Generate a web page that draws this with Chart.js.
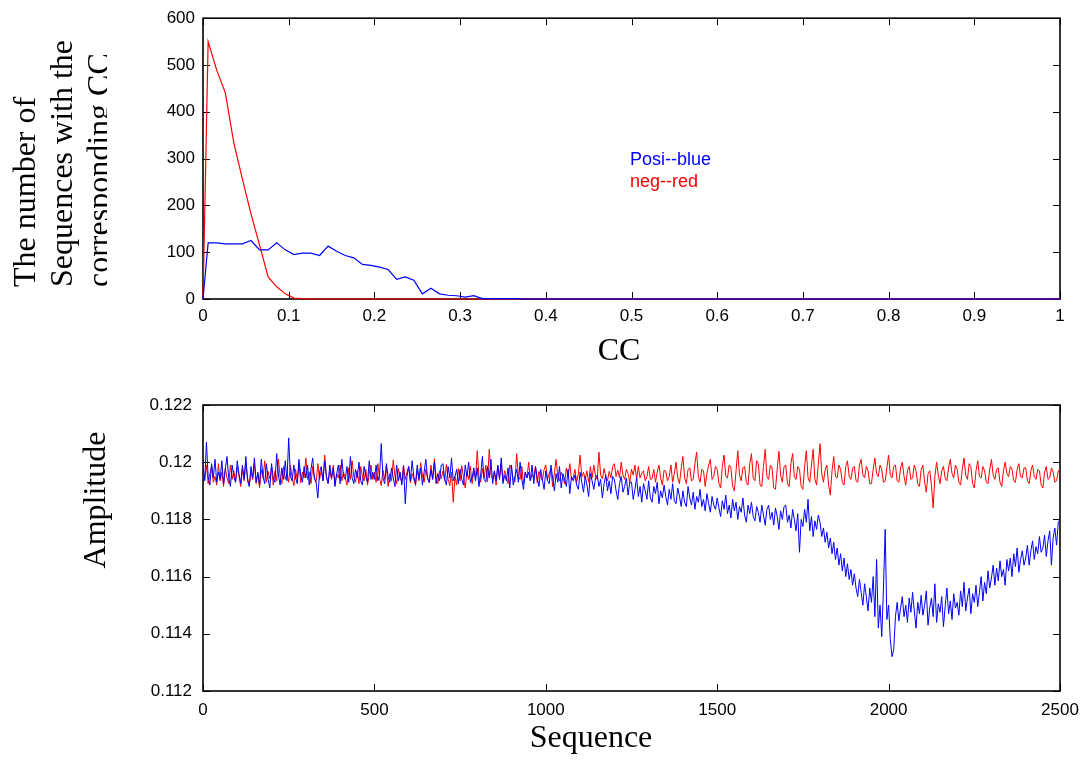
<!DOCTYPE html>
<html>
<head>
<meta charset="utf-8">
<script src="https://cdn.jsdelivr.net/npm/chart.js@4.4.1/dist/chart.umd.min.js"></script>
<style>
  html, body { margin: 0; padding: 0; background: #fff; }
  #wrap { position: relative; width: 1086px; height: 764px; }
  canvas { position: absolute; left: 0; }
  #ccChart { top: 0; }
  #ampChart { top: 380px; }
</style>
</head>
<body>
<div id="wrap">
  <canvas id="ccChart" width="1086" height="380"></canvas>
  <canvas id="ampChart" width="1086" height="384"></canvas>
</div>
<script>
// --- top: histogram of CC ---
const ccBins = [0, 0.006, 0.016, 0.026, 0.036, 0.046, 0.056, 0.066, 0.076, 0.086, 0.096,
  0.106, 0.116, 0.126, 0.136, 0.146, 0.156, 0.166, 0.176, 0.186, 0.196,
  0.206, 0.216, 0.226, 0.236, 0.246, 0.256, 0.266, 0.276, 0.286, 0.296,
  0.306, 0.316, 0.326, 0.336, 0.346, 0.356, 0.366, 0.376, 1]
const posiCounts = [0, 120, 120, 118, 118, 118, 125, 105, 105, 120, 105,
  95, 98, 98, 93, 113, 102, 93, 88, 74, 72,
  68, 63, 42, 47, 40, 11, 23, 11, 8, 7,
  4, 7, 1, 1, 1, 1, 1, 0, 0]
const negCounts = [0, 550, 489, 441, 333, 256, 182, 115, 47, 26, 11,
  2, 1, 0, 0, 0, 0, 0, 0, 0, 0,
  0, 0, 0, 0, 0, 0, 0, 0, 0, 0,
  0, 0, 0, 0, 0, 0, 0, 0, 0]
const ccTicks = [0, 0.1, 0.2, 0.3, 0.4, 0.5, 0.6, 0.7, 0.8, 0.9, 1]
const countTicks = [0, 100, 200, 300, 400, 500, 600]

// --- bottom: amplitude per sequence (one value every 5 sequences) ---
const SAMPLE_STEP = 5
const posiAmplitude = [
  0.11985, 0.11935, 0.12070, 0.11950, 0.11920, 0.11995, 0.11945, 0.12010, 0.11930, 0.11965,
  0.11940, 0.12005, 0.11925, 0.11975, 0.12020, 0.11945, 0.11915, 0.11990, 0.11950, 0.11930,
  0.12005, 0.11960, 0.11925, 0.11990, 0.11940, 0.12020, 0.11935, 0.11915, 0.11985, 0.11945,
  0.12015, 0.11930, 0.11965, 0.11920, 0.12010, 0.11950, 0.11925, 0.11995, 0.11940, 0.11910,
  0.11995, 0.11945, 0.11930, 0.12030, 0.11955, 0.11920, 0.11980, 0.11940, 0.12005, 0.11935,
  0.12085, 0.11950, 0.11935, 0.11990, 0.11945, 0.11925, 0.12010, 0.11955, 0.11930, 0.11985,
  0.11945, 0.11990, 0.11920, 0.11975, 0.12015, 0.11940, 0.11930, 0.11875, 0.11965, 0.11985,
  0.11935, 0.12005, 0.11950, 0.11925, 0.11990, 0.11945, 0.11980, 0.11915, 0.11960, 0.11990,
  0.11925, 0.12010, 0.11950, 0.11940, 0.11985, 0.11930, 0.12020, 0.11945, 0.11925, 0.11975,
  0.11945, 0.12000, 0.11935, 0.11920, 0.11985, 0.11950, 0.11930, 0.12005, 0.11940, 0.11965,
  0.11940, 0.11990, 0.11935, 0.11955, 0.12065, 0.11945, 0.11925, 0.11995, 0.11950, 0.11930,
  0.11980, 0.11945, 0.11915, 0.11990, 0.11935, 0.11965, 0.11920, 0.11985, 0.11855, 0.11950,
  0.11985, 0.11935, 0.12005, 0.11950, 0.11925, 0.11990, 0.11940, 0.11980, 0.11920, 0.11965,
  0.12010, 0.11945, 0.11930, 0.11975, 0.11940, 0.12000, 0.11925, 0.11960, 0.11935, 0.11990,
  0.11995, 0.11940, 0.11920, 0.11985, 0.11945, 0.12015, 0.11935, 0.11950, 0.11975, 0.11925,
  0.11975, 0.11940, 0.11920, 0.11990, 0.11950, 0.12000, 0.11930, 0.11945, 0.11980, 0.11935,
  0.11980, 0.11915, 0.11955, 0.12020, 0.11940, 0.11930, 0.11985, 0.11945, 0.12010, 0.11925,
  0.11970, 0.11935, 0.11990, 0.11940, 0.12015, 0.11925, 0.11955, 0.11935, 0.11980, 0.11910,
  0.11990, 0.11920, 0.11950, 0.11975, 0.11930, 0.12000, 0.11940, 0.11905, 0.11965, 0.11945,
  0.11965, 0.11935, 0.11990, 0.11925, 0.11985, 0.11945, 0.11915, 0.11975, 0.11940, 0.11905,
  0.11970, 0.11935, 0.11925, 0.11990, 0.11945, 0.11900, 0.11960, 0.11930, 0.11985, 0.11910,
  0.11960, 0.11940, 0.11915, 0.11975, 0.11890, 0.11950, 0.11935, 0.11955, 0.11920, 0.11905,
  0.11965, 0.11930, 0.11895, 0.11950, 0.11920, 0.11880, 0.11960, 0.11935, 0.11905, 0.11945,
  0.11955, 0.11915, 0.11940, 0.11875, 0.11925, 0.11955, 0.11900, 0.11935, 0.11890, 0.11950,
  0.11940, 0.11900, 0.11870, 0.11925, 0.11950, 0.11895, 0.11915, 0.11945, 0.11885, 0.11930,
  0.11930, 0.11870, 0.11905, 0.11945, 0.11880, 0.11915, 0.11860, 0.11925, 0.11900, 0.11870,
  0.11935, 0.11875, 0.11860, 0.11915, 0.11890, 0.11930, 0.11855, 0.11900, 0.11875, 0.11920,
  0.11880, 0.11850, 0.11905, 0.11870, 0.11925, 0.11865, 0.11855, 0.11910, 0.11880, 0.11845,
  0.11900, 0.11860, 0.11845, 0.11915, 0.11875, 0.11850, 0.11895, 0.11835, 0.11880, 0.11860,
  0.11905, 0.11845, 0.11870, 0.11830, 0.11890, 0.11855, 0.11825, 0.11880, 0.11850, 0.11835,
  0.11875, 0.11840, 0.11810, 0.11865, 0.11835, 0.11885, 0.11820, 0.11850, 0.11805, 0.11870,
  0.11830, 0.11860, 0.11800, 0.11845, 0.11825, 0.11875, 0.11815, 0.11790, 0.11850, 0.11820,
  0.11860, 0.11810, 0.11795, 0.11845, 0.11825, 0.11790, 0.11850, 0.11815, 0.11780, 0.11835,
  0.11850, 0.11800, 0.11825, 0.11780, 0.11840, 0.11810, 0.11765, 0.11830, 0.11800, 0.11845,
  0.11850, 0.11790, 0.11815, 0.11770, 0.11835, 0.11800, 0.11760, 0.11820, 0.11685, 0.11800,
  0.11775, 0.11835, 0.11790, 0.11870, 0.11760, 0.11810, 0.11740, 0.11795, 0.11765, 0.11815,
  0.11790, 0.11740, 0.11770, 0.11720, 0.11755, 0.11700, 0.11735, 0.11680, 0.11720, 0.11660,
  0.11700, 0.11640, 0.11680, 0.11620, 0.11665, 0.11600, 0.11645, 0.11590, 0.11625, 0.11570,
  0.11610, 0.11560, 0.11530, 0.11590, 0.11545, 0.11500, 0.11575, 0.11530, 0.11480, 0.11560,
  0.11510, 0.11600, 0.11460, 0.11660, 0.11420, 0.11500, 0.11390, 0.11560, 0.11765, 0.11450,
  0.11500, 0.11380, 0.11320, 0.11345, 0.11460, 0.11510, 0.11445, 0.11490, 0.11530, 0.11460,
  0.11500, 0.11440, 0.11525, 0.11475, 0.11545, 0.11480, 0.11420, 0.11510, 0.11470, 0.11535,
  0.11465, 0.11500, 0.11550, 0.11430, 0.11490, 0.11525, 0.11460, 0.11575, 0.11440, 0.11505,
  0.11475, 0.11530, 0.11425, 0.11495, 0.11560, 0.11470, 0.11515, 0.11450, 0.11540, 0.11490,
  0.11510, 0.11465, 0.11550, 0.11495, 0.11580, 0.11480, 0.11525, 0.11560, 0.11470, 0.11540,
  0.11510, 0.11570, 0.11495, 0.11545, 0.11600, 0.11515, 0.11580, 0.11540, 0.11620, 0.11560,
  0.11595, 0.11640, 0.11570, 0.11630, 0.11585, 0.11655, 0.11600, 0.11625, 0.11570, 0.11660,
  0.11620, 0.11665, 0.11600, 0.11680, 0.11635, 0.11700, 0.11615, 0.11660, 0.11690, 0.11640,
  0.11665, 0.11710, 0.11640, 0.11690, 0.11725, 0.11660, 0.11705, 0.11680, 0.11740, 0.11685,
  0.11700, 0.11745, 0.11670, 0.11725, 0.11760, 0.11640, 0.11735, 0.11770, 0.11710, 0.11790,
  0.11800]
const negAmplitude = [
  0.11975, 0.11940, 0.11990, 0.11925, 0.11960, 0.11985, 0.11930, 0.11950, 0.11920, 0.11995,
  0.11935, 0.11965, 0.11915, 0.11980, 0.11945, 0.11925, 0.11990, 0.11940, 0.11970, 0.11930,
  0.11985, 0.11950, 0.11915, 0.11975, 0.11935, 0.11998, 0.11945, 0.11920, 0.11965, 0.11940,
  0.11995, 0.11925, 0.11960, 0.11910, 0.11975, 0.11945, 0.12005, 0.11930, 0.11968, 0.11942,
  0.11980, 0.11920, 0.11970, 0.11935, 0.12010, 0.11950, 0.11925, 0.11985, 0.11940, 0.11962,
  0.11930, 0.11990, 0.11945, 0.11918, 0.11975, 0.11935, 0.11995, 0.11928, 0.11965, 0.11945,
  0.12015, 0.11940, 0.11965, 0.11925, 0.11985, 0.11948, 0.11930, 0.11995, 0.11940, 0.11972,
  0.11935, 0.12025, 0.11950, 0.11928, 0.11970, 0.11940, 0.11990, 0.11922, 0.11960, 0.11945,
  0.11990, 0.11935, 0.11965, 0.11945, 0.11920, 0.11980, 0.11940, 0.12005, 0.11950, 0.11930,
  0.11970, 0.11925, 0.11985, 0.11948, 0.11935, 0.11975, 0.11920, 0.11960, 0.11990, 0.11940,
  0.11965, 0.11930, 0.11995, 0.11945, 0.11918, 0.11972, 0.11940, 0.11985, 0.11915, 0.11960,
  0.11935, 0.12008, 0.11950, 0.11925, 0.11978, 0.11945, 0.11932, 0.11990, 0.11940, 0.11965,
  0.11985, 0.11928, 0.11960, 0.11940, 0.11918, 0.11975, 0.11935, 0.11998, 0.11955, 0.11930,
  0.11975, 0.11945, 0.11928, 0.11990, 0.11940, 0.12012, 0.11948, 0.11925, 0.11970, 0.11942,
  0.11970, 0.11935, 0.11992, 0.11940, 0.11918, 0.11965, 0.11860, 0.11950, 0.11920, 0.11978,
  0.11935, 0.11988, 0.11945, 0.11910, 0.11965, 0.11940, 0.11985, 0.11925, 0.11970, 0.11945,
  0.12040, 0.11950, 0.11930, 0.11978, 0.11945, 0.11990, 0.11932, 0.12045, 0.11955, 0.11940,
  0.11968, 0.11920, 0.11985, 0.11945, 0.11995, 0.11935, 0.11970, 0.11948, 0.11925, 0.11990,
  0.11975, 0.11940, 0.11930, 0.12030, 0.11950, 0.11940, 0.11985, 0.11925, 0.11965, 0.11945,
  0.12000, 0.11935, 0.11958, 0.11945, 0.11985, 0.11928, 0.11968, 0.11950, 0.11935, 0.11975,
  0.11990, 0.11940, 0.11962, 0.11975, 0.11915, 0.11960, 0.12010, 0.11950, 0.11935, 0.11965,
  0.11945, 0.11925, 0.11980, 0.11950, 0.11995, 0.11938, 0.11945, 0.11975, 0.11930, 0.11960,
  0.12025, 0.11948, 0.11965, 0.11940, 0.11970, 0.11930, 0.11985, 0.11945, 0.11990, 0.11952,
  0.11940, 0.12035, 0.11955, 0.11942, 0.11978, 0.11950, 0.11935, 0.11968, 0.11945, 0.11985,
  0.11995, 0.11950, 0.11972, 0.11945, 0.12000, 0.11955, 0.11940, 0.11975, 0.11960, 0.11930,
  0.11975, 0.11955, 0.11990, 0.11940, 0.11985, 0.11945, 0.11962, 0.11970, 0.11935, 0.11950,
  0.11985, 0.11940, 0.11942, 0.11975, 0.11930, 0.11965, 0.11990, 0.11945, 0.11920, 0.11972,
  0.11968, 0.11935, 0.11950, 0.11990, 0.11930, 0.11960, 0.12000, 0.11945, 0.11925, 0.11980,
  0.12020, 0.11945, 0.11925, 0.11975, 0.11980, 0.11935, 0.11940, 0.11995, 0.12035, 0.11950,
  0.11930, 0.11975, 0.11970, 0.11915, 0.11960, 0.11990, 0.12010, 0.11940, 0.11950, 0.11985,
  0.11975, 0.11925, 0.11910, 0.11985, 0.12025, 0.11950, 0.11945, 0.11990, 0.11980, 0.11915,
  0.11900, 0.11970, 0.12040, 0.11955, 0.11935, 0.11980, 0.11985, 0.11930, 0.11920, 0.11995,
  0.12030, 0.11945, 0.11935, 0.12005, 0.11995, 0.11920, 0.11915, 0.11985, 0.12045, 0.11950,
  0.11940, 0.11990, 0.11980, 0.11910, 0.11905, 0.11975, 0.12038, 0.11955, 0.11930, 0.11985,
  0.11990, 0.11925, 0.11915, 0.11995, 0.12030, 0.11950, 0.11940, 0.11985, 0.11975, 0.11915,
  0.11905, 0.11985, 0.12040, 0.11945, 0.11930, 0.11990, 0.12045, 0.11940, 0.11920, 0.11995,
  0.12065, 0.11960, 0.11930, 0.11975, 0.11990, 0.11920, 0.11885, 0.11970, 0.12020, 0.11950,
  0.11945, 0.11990, 0.11975, 0.11930, 0.11920, 0.11985, 0.12005, 0.11950, 0.11940, 0.11980,
  0.11985, 0.11935, 0.11930, 0.11990, 0.12010, 0.11955, 0.11945, 0.11985, 0.11970, 0.11925,
  0.11925, 0.11975, 0.12015, 0.11960, 0.11950, 0.11990, 0.11975, 0.11930, 0.11935, 0.11980,
  0.12025, 0.11955, 0.11945, 0.11985, 0.11990, 0.11935, 0.11930, 0.11980, 0.12000, 0.11950,
  0.11920, 0.11970, 0.11985, 0.11940, 0.11945, 0.11990, 0.11970, 0.11925, 0.11915, 0.11975,
  0.11990, 0.11930, 0.11895, 0.11960, 0.11970, 0.11920, 0.11840, 0.11950, 0.12000, 0.11955,
  0.11925, 0.11970, 0.11985, 0.11945, 0.11935, 0.11980, 0.12010, 0.11960, 0.11945, 0.11990,
  0.11975, 0.11930, 0.11920, 0.11975, 0.12015, 0.11955, 0.11940, 0.11995, 0.11985, 0.11925,
  0.11910, 0.11970, 0.12005, 0.11950, 0.11945, 0.11985, 0.11970, 0.11930, 0.11925, 0.11975,
  0.12010, 0.11955, 0.11940, 0.11975, 0.11980, 0.11930, 0.11915, 0.11970, 0.12000, 0.11960,
  0.11950, 0.11985, 0.11975, 0.11935, 0.11930, 0.11975, 0.11995, 0.11950, 0.11945, 0.11980,
  0.11980, 0.11935, 0.11925, 0.11970, 0.11990, 0.11950, 0.11940, 0.11975, 0.11970, 0.11920,
  0.11910, 0.11965, 0.11985, 0.11940, 0.11945, 0.11980, 0.11965, 0.11930, 0.11935, 0.11970,
  0.11975]
const seqTicks = [0, 500, 1000, 1500, 2000, 2500]
const ampTicks = [0.112, 0.114, 0.116, 0.118, 0.12, 0.122]

const SANS = "'Liberation Sans', Arial, sans-serif"
const SERIF = "'Liberation Serif', 'Times New Roman', serif"

// box with inward ticks on all four sides, like matlab
const matlabFrame = {
  id: 'matlabFrame',
  beforeDatasetsDraw(chart) {
    const { ctx, chartArea: a, scales } = chart
    ctx.save()
    ctx.strokeStyle = '#000'
    ctx.lineWidth = 1.6
    ctx.strokeRect(a.left, a.top, a.right - a.left, a.bottom - a.top)
    ctx.lineWidth = 1
    const len = 7
    ctx.beginPath()
    scales.x.ticks.forEach(t => {
      const px = Math.round(scales.x.getPixelForValue(t.value)) + 0.5
      ctx.moveTo(px, a.bottom); ctx.lineTo(px, a.bottom - len)
      ctx.moveTo(px, a.top); ctx.lineTo(px, a.top + len)
    })
    scales.y.ticks.forEach(t => {
      const py = Math.round(scales.y.getPixelForValue(t.value)) + 0.5
      ctx.moveTo(a.left, py); ctx.lineTo(a.left + len, py)
      ctx.moveTo(a.right, py); ctx.lineTo(a.right - len, py)
    })
    ctx.stroke()
    ctx.restore()
  }
}

// free text (axis labels, legend notes)
const freeText = {
  id: 'freeText',
  afterDraw(chart, args, opts) {
    const ctx = chart.ctx
    ;(opts.items || []).forEach(it => {
      ctx.save()
      if (it.clip) {
        ctx.beginPath()
        ctx.rect(it.clip[0], it.clip[1], it.clip[2], it.clip[3])
        ctx.clip()
      }
      ctx.translate(it.x, it.y)
      if (it.rotate) ctx.rotate(it.rotate)
      ctx.font = it.font
      ctx.fillStyle = it.color || '#000'
      ctx.textAlign = it.align || 'left'
      ctx.textBaseline = 'alphabetic'
      ctx.fillText(it.text, 0, 0)
      ctx.restore()
    })
  }
}

function fmt(v, d) {
  return String(Number(v.toFixed(d)))
}

function baseScales(xTicks, yTicks, xDigits, yDigits, xHeight, yPad, xPad) {
  return {
    x: {
      type: 'linear',
      min: xTicks[0],
      max: xTicks[xTicks.length - 1],
      afterBuildTicks: s => { s.ticks = xTicks.map(v => ({ value: v })) },
      afterFit: s => {
        s.height = xHeight
        // let the end labels hang over, the plot box stays fixed
        s.paddingLeft = 0
        s.paddingRight = 0
      },
      grid: { display: false, drawTicks: false },
      border: { display: false },
      ticks: {
        autoSkip: false, maxRotation: 0, padding: xPad,
        color: '#000', font: { family: SANS, size: 17 },
        callback: v => fmt(v, xDigits)
      }
    },
    y: {
      type: 'linear',
      min: yTicks[0],
      max: yTicks[yTicks.length - 1],
      afterBuildTicks: s => { s.ticks = yTicks.map(v => ({ value: v })) },
      afterFit: s => { s.width = 203 },
      grid: { display: false, drawTicks: false },
      border: { display: false },
      ticks: {
        padding: yPad,
        color: '#000', font: { family: SANS, size: 17 },
        callback: v => fmt(v, yDigits)
      }
    }
  }
}

new Chart(document.getElementById('ccChart'), {
  type: 'line',
  data: {
    datasets: [
      {
        label: 'Posi',
        data: ccBins.map((x, i) => ({ x, y: posiCounts[i] })),
        borderColor: '#0000ff',
        borderWidth: 1.2,
        pointRadius: 0,
        clip: false
      },
      {
        label: 'neg',
        data: ccBins.map((x, i) => ({ x, y: negCounts[i] })),
        borderColor: '#ff0000',
        borderWidth: 1.2,
        pointRadius: 0,
        clip: false
      }
    ]
  },
  options: {
    responsive: false,
    animation: false,
    devicePixelRatio: 1,
    layout: { padding: { top: 16, right: 26, left: 0, bottom: 0 } },
    scales: baseScales(ccTicks, countTicks, 1, 0, 81, 8, 7),
    plugins: {
      legend: { display: false },
      tooltip: { enabled: false },
      freeText: {
        items: [
          { text: 'The number of', x: 35, y: 287, rotate: -Math.PI / 2, font: `32px ${SERIF}`, clip: [0, 0, 107, 380] },
          { text: 'Sequences with the', x: 72, y: 287, rotate: -Math.PI / 2, font: `32px ${SERIF}`, clip: [0, 0, 107, 380] },
          { text: 'corresponding CC', x: 109, y: 287, rotate: -Math.PI / 2, font: `32px ${SERIF}`, clip: [0, 0, 107, 380] },
          { text: 'CC', x: 619, y: 360, align: 'center', font: `32px ${SERIF}` },
          { text: 'Posi--blue', x: 630, y: 165, font: `18px ${SANS}`, color: '#0000ff' },
          { text: 'neg--red', x: 630, y: 187, font: `18px ${SANS}`, color: '#ff0000' }
        ]
      }
    }
  },
  plugins: [matlabFrame, freeText]
})

new Chart(document.getElementById('ampChart'), {
  type: 'line',
  data: {
    datasets: [
      {
        label: 'Posi',
        data: posiAmplitude.map((y, i) => ({ x: i * SAMPLE_STEP, y })),
        borderColor: '#0000ff',
        borderWidth: 1,
        pointRadius: 0
      },
      {
        label: 'neg',
        data: negAmplitude.map((y, i) => ({ x: i * SAMPLE_STEP, y })),
        borderColor: '#ff0000',
        borderWidth: 1,
        pointRadius: 0
      }
    ]
  },
  options: {
    responsive: false,
    animation: false,
    devicePixelRatio: 1,
    layout: { padding: { top: 25, right: 26, left: 0, bottom: 0 } },
    scales: baseScales(seqTicks, ampTicks, 0, 3, 73, 11, 9),
    plugins: {
      legend: { display: false },
      tooltip: { enabled: false },
      freeText: {
        items: [
          { text: 'Amplitude', x: 105, y: 120, rotate: -Math.PI / 2, align: 'center', font: `32px ${SERIF}` },
          { text: 'Sequence', x: 591, y: 367, align: 'center', font: `32px ${SERIF}` }
        ]
      }
    }
  },
  plugins: [matlabFrame, freeText]
})
</script>
</body>
</html>
